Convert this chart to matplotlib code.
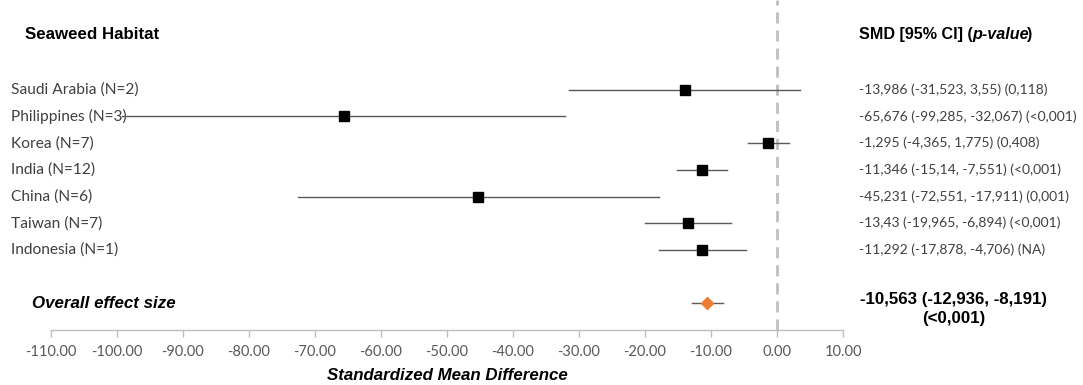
import matplotlib
matplotlib.use("Agg")
import matplotlib.pyplot as plt
from matplotlib.transforms import blended_transform_factory

countries = ["Saudi Arabia", "Philippines", "Korea", "India", "China", "Taiwan", "Indonesia"]
n_studies = [2, 3, 7, 12, 6, 7, 1]
smd = [-13.986, -65.676, -1.295, -11.346, -45.231, -13.43, -11.292]
ci_low = [-31.523, -99.285, -4.365, -15.14, -72.551, -19.965, -17.878]
ci_high = [3.55, -32.067, 1.775, -7.551, -17.911, -6.894, -4.706]
p_values = ["0,118", "<0,001", "0,408", "<0,001", "0,001", "<0,001", "NA"]

overall_smd = -10.563
overall_low = -12.936
overall_high = -8.191
overall_p = "<0,001"

xticks = list(range(-110, 11, 10))


def fmt(v):
    return f"{v:g}".replace(".", ",")


W, H = 1083, 385
fig = plt.figure(figsize=(W / 100, H / 100), dpi=100)
ax = fig.add_axes([51 / W, 55 / H, (843 - 51) / W, 1 - 55 / H])

rows = list(range(len(countries)))
overall_row = len(countries) + 1

# study rows
for i in rows:
    ax.plot([ci_low[i], ci_high[i]], [i, i], color="#595959", lw=1, zorder=2)
ax.plot(smd, rows, "s", color="black", ms=7, zorder=3)

# overall
ax.plot([overall_low, overall_high], [overall_row, overall_row], color="#595959", lw=1, zorder=2)
ax.plot([overall_smd], [overall_row], "D", color="#ED7D31", ms=6.5, zorder=3)

# zero line
ax.axvline(0, color="#BFBFBF", lw=2, ls=(0, (4, 2.5)), zorder=1)

ax.set_xlim(-110, 10)
ax.set_ylim(9.0, -3.36)
ax.set_yticks([])
ax.set_xticks(xticks)
ax.set_xticklabels([f"{t:.2f}" for t in xticks], fontsize=10.5, color="#595959", family="Lato")
ax.tick_params(axis="x", direction="out", length=5, color="#BFBFBF", width=1, pad=6)
for s in ["top", "left", "right"]:
    ax.spines[s].set_visible(False)
ax.spines["bottom"].set_color("#BFBFBF")
ax.spines["bottom"].set_linewidth(1)

ax.set_xlabel("Standardized Mean Difference", fontsize=12.2, fontweight="bold",
              style="italic", family="Liberation Sans", labelpad=6)

trans = blended_transform_factory(fig.transFigure, ax.transData)

# left labels
ax.text(25 / W, -2.05, "Seaweed Habitat", transform=trans, fontsize=12.2, fontweight="bold",
        family="Liberation Sans", va="center", ha="left")
for i in rows:
    ax.text(11 / W, i, f"{countries[i]} (N={n_studies[i]})", transform=trans, fontsize=11.2,
            color="#404040", family="Lato", va="center", ha="left", zorder=1)
ax.text(32 / W, overall_row, "Overall effect size", transform=trans, fontsize=12.2,
        fontweight="bold", style="italic", family="Liberation Sans", va="center", ha="left")

# right column
t1 = ax.text(859 / W, -2.05, "SMD [95% CI] (", transform=trans, fontsize=11.6,
             fontweight="bold", family="Liberation Sans", va="center", ha="left")
t2 = ax.annotate("p-value", xy=(1, 0), xycoords=t1, va="bottom", ha="left", fontsize=11.6,
                 fontweight="bold", style="italic", family="Liberation Sans")
ax.annotate(")", xy=(1, 0), xycoords=t2, xytext=(-1.5, 0), textcoords="offset points",
            va="bottom", ha="left", fontsize=11.6, fontweight="bold", family="Liberation Sans")
for i in rows:
    ax.text(859 / W, i, f"{fmt(smd[i])} ({fmt(ci_low[i])}, {fmt(ci_high[i])}) ({p_values[i]})",
            transform=trans, fontsize=10, color="#404040", family="Lato", va="center", ha="left")
ax.text(954 / W, overall_row + 0.22,
        f"{fmt(overall_smd)} ({fmt(overall_low)}, {fmt(overall_high)})\n({overall_p})",
        transform=trans, fontsize=12.2, fontweight="bold", family="Liberation Sans",
        va="center", ha="center", multialignment="center", linespacing=1.3)

fig.savefig("out.png", dpi=100)
